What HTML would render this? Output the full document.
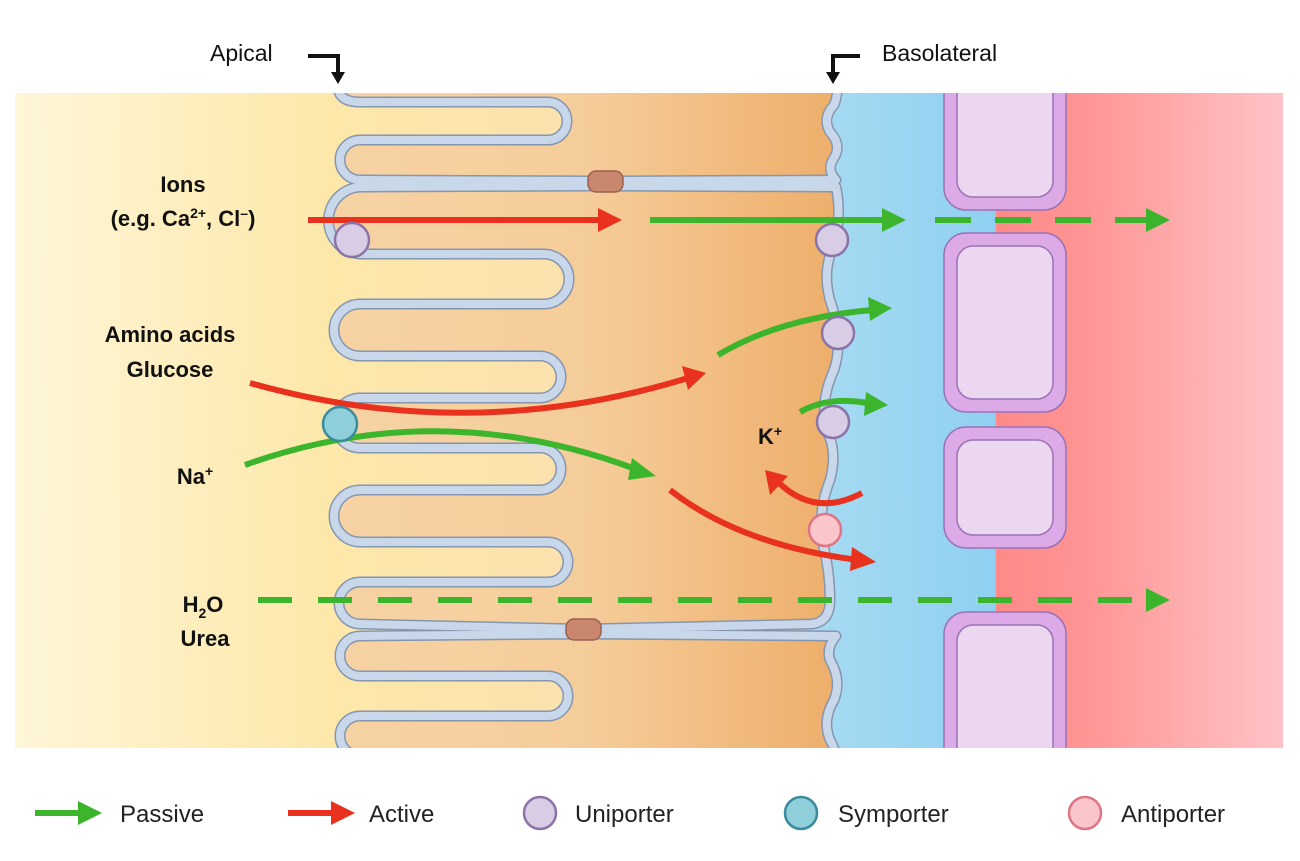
<!DOCTYPE html>
<html><head><meta charset="utf-8"><style>
html,body{margin:0;padding:0;background:#fff;}
svg{display:block;font-family:"Liberation Sans",sans-serif;}
</style></head><body>
<svg width="1300" height="861" viewBox="0 0 1300 861" xmlns="http://www.w3.org/2000/svg">
<defs>
<clipPath id="c"><rect x="15" y="93" width="1268" height="655"/></clipPath>
<linearGradient id="gy" gradientUnits="userSpaceOnUse" x1="15" y1="0" x2="840" y2="0">
<stop offset="0" stop-color="#fef6d8"/><stop offset="0.38" stop-color="#fde8aa"/><stop offset="0.68" stop-color="#fbe1ae"/><stop offset="1" stop-color="#f3c48a"/></linearGradient>
<linearGradient id="go" gradientUnits="userSpaceOnUse" x1="335" y1="0" x2="838" y2="0">
<stop offset="0" stop-color="#f6d2a4"/><stop offset="0.5" stop-color="#f5cd9a"/><stop offset="1" stop-color="#eeae6a"/></linearGradient>
<linearGradient id="gb" gradientUnits="userSpaceOnUse" x1="800" y1="0" x2="996" y2="0">
<stop offset="0" stop-color="#a9dbf2"/><stop offset="1" stop-color="#8fd0f0"/></linearGradient>
<linearGradient id="gr" gradientUnits="userSpaceOnUse" x1="996" y1="0" x2="1283" y2="0">
<stop offset="0" stop-color="#ff8a88"/><stop offset="0.3" stop-color="#ff9494"/><stop offset="1" stop-color="#ffc3c7"/></linearGradient>
</defs>

<g clip-path="url(#c)">
<rect x="800" y="93" width="196" height="655" fill="url(#gb)"/>
<rect x="996" y="93" width="287" height="655" fill="url(#gr)"/>
<rect x="15" y="93" width="790" height="655" fill="url(#gy)"/>

<g id="cells">
<path id="p1" d="M836,60 L338,60 L338,86 Q338,102 360,102 L548,102 A19,19 0 0 1 548,140 L360,140 A20,20 0 0 0 360,180 L600,181 L836,180 Q826,170 834,158 Q842,145 830,132 Q822,118 834,105 Q840,92 836,60 Z"/>
<path id="p2" d="M836,187 L600,186 L362,187 A33,33 0 0 0 362,254 L544,254 A25,25 0 0 1 544,304 L360,304 A26,26 0 0 0 360,356 L540,356 A21,21 0 0 1 540,398 L360,398 A25,25 0 0 0 360,448 L540,448 A21,21 0 0 1 540,490 L360,490 A26,26 0 0 0 360,542 L548,542 A20,20 0 0 1 548,582 L360,582 A21,21 0 0 0 360,624 L583,629 L812,624 Q830,622 830,600 Q830,570 822,540 Q818,510 830,480 Q838,450 826,430 Q820,400 834,370 Q844,340 830,300 Q822,270 834,245 Q842,215 836,187 Z"/>
<path id="p3" d="M836,636 L583,634 L360,636 A20,20 0 0 0 360,676 L548,676 A20,20 0 0 1 548,716 L360,716 A20,20 0 0 0 360,756 L360,790 L836,790 Q842,760 830,740 Q822,720 834,700 Q842,680 830,660 Q826,648 836,636 Z"/>
</g>
<g fill="url(#go)" stroke="none"><use href="#p1"/><use href="#p2"/><use href="#p3"/></g>
<g fill="none" stroke="#8596b0" stroke-width="11" stroke-linejoin="round"><use href="#p1"/><use href="#p2"/><use href="#p3"/></g>
<g fill="none" stroke="#c8d7e9" stroke-width="8" stroke-linejoin="round"><use href="#p1"/><use href="#p2"/><use href="#p3"/></g>

<rect x="588" y="171" width="35" height="21" rx="8" fill="#c8876e" stroke="#9a6050" stroke-width="1.5"/>
<rect x="566" y="619" width="35" height="21" rx="8" fill="#c8876e" stroke="#9a6050" stroke-width="1.5"/>

<g stroke="#9a72b6" stroke-width="1.5">
<rect x="944" y="50" width="122" height="160" rx="22" fill="#dcaae6"/>
<rect x="957" y="50" width="96" height="147" rx="16" fill="#ecd7f0"/>
<rect x="944" y="233" width="122" height="179" rx="22" fill="#dcaae6"/>
<rect x="957" y="246" width="96" height="153" rx="16" fill="#ecd7f0"/>
<rect x="944" y="427" width="122" height="121" rx="22" fill="#dcaae6"/>
<rect x="957" y="440" width="96" height="95" rx="16" fill="#ecd7f0"/>
<rect x="944" y="612" width="122" height="180" rx="22" fill="#dcaae6"/>
<rect x="957" y="625" width="96" height="160" rx="16" fill="#ecd7f0"/>
</g>

<g fill="none" stroke-width="6">
<line x1="308" y1="220" x2="600" y2="220" stroke="#e8321e"/>
<line x1="650" y1="220" x2="885" y2="220" stroke="#3cb52c"/>
<line x1="935" y1="220" x2="1150" y2="220" stroke="#3cb52c" stroke-dasharray="36,24"/>
<path d="M250,383 Q470,445 688,378" stroke="#e8321e"/>
<path d="M718,355 Q780,318 872,310" stroke="#3cb52c"/>
<path d="M245,465 Q440,395 638,470" stroke="#3cb52c"/>
<path d="M670,490 Q740,545 858,560" stroke="#e8321e"/>
<path d="M800,412 Q830,395 872,404" stroke="#3cb52c"/>
<path d="M862,493 Q815,518 778,482" stroke="#e8321e"/>
<line x1="258" y1="600" x2="1150" y2="600" stroke="#3cb52c" stroke-dasharray="34,26"/>
</g>
<g>
<polygon points="598,208 622,220 598,232" fill="#e8321e"/>
<polygon points="882,208 906,220 882,232" fill="#3cb52c"/>
<polygon points="1146,208 1170,220 1146,232" fill="#3cb52c"/>
<polygon points="682,366 706,373 688,390" fill="#e8321e"/>
<polygon points="868,297 892,308 870,321" fill="#3cb52c"/>
<polygon points="632,458 656,476 628,480" fill="#3cb52c"/>
<polygon points="852,547 876,562 850,571" fill="#e8321e"/>
<polygon points="866,392 888,405 864,416" fill="#3cb52c"/>
<polygon points="765,470 770,495 788,476" fill="#e8321e"/>
<polygon points="1146,588 1170,600 1146,612" fill="#3cb52c"/>
</g>

<g stroke-width="2.5">
<circle cx="352" cy="240" r="17" fill="#d9cde6" stroke="#8a74a8"/>
<circle cx="832" cy="240" r="16" fill="#d9cde6" stroke="#8a74a8"/>
<circle cx="838" cy="333" r="16" fill="#d9cde6" stroke="#8a74a8"/>
<circle cx="833" cy="422" r="16" fill="#d9cde6" stroke="#8a74a8"/>
<circle cx="340" cy="424" r="17" fill="#8ecfd9" stroke="#3a8aa0"/>
<circle cx="825" cy="530" r="16" fill="#fbc5cc" stroke="#e07585"/>
</g>
</g>

<g font-weight="bold" font-size="22" fill="#111" text-anchor="middle">
<text x="183" y="192">Ions</text>
<text x="183" y="226">(e.g. Ca<tspan font-size="14" dy="-8">2+</tspan><tspan dy="8">, Cl</tspan><tspan font-size="14" dy="-8">–</tspan><tspan dy="8">)</tspan></text>
<text x="170" y="342">Amino acids</text>
<text x="170" y="377">Glucose</text>
<text x="195" y="484">Na<tspan font-size="14" dy="-8">+</tspan></text>
<text x="203" y="612">H<tspan font-size="14" dy="6">2</tspan><tspan dy="-6">O</tspan></text>
<text x="205" y="646">Urea</text>
<text x="770" y="444">K<tspan font-size="14" dy="-8">+</tspan></text>
</g>

<g font-size="23" fill="#111">
<text x="210" y="61">Apical</text>
<text x="882" y="61">Basolateral</text>
</g>
<g fill="none" stroke="#111" stroke-width="4">
<path d="M308,56 L338,56 L338,74"/>
<path d="M860,56 L833,56 L833,74"/>
</g>
<polygon points="331,72 345,72 338,84" fill="#111"/>
<polygon points="826,72 840,72 833,84" fill="#111"/>

<line x1="35" y1="813" x2="80" y2="813" stroke="#3cb52c" stroke-width="6"/>
<polygon points="78,801 102,813 78,825" fill="#3cb52c"/>
<line x1="288" y1="813" x2="333" y2="813" stroke="#e8321e" stroke-width="6"/>
<polygon points="331,801 355,813 331,825" fill="#e8321e"/>
<circle cx="540" cy="813" r="16" fill="#d9cde6" stroke="#8a74a8" stroke-width="2.5"/>
<circle cx="801" cy="813" r="16" fill="#8ecfd9" stroke="#3a8aa0" stroke-width="2.5"/>
<circle cx="1085" cy="813" r="16" fill="#fbc5cc" stroke="#e07585" stroke-width="2.5"/>
<g font-size="24" fill="#222">
<text x="120" y="822">Passive</text>
<text x="369" y="822">Active</text>
<text x="575" y="822">Uniporter</text>
<text x="838" y="822">Symporter</text>
<text x="1121" y="822">Antiporter</text>
</g>
</svg>
</body></html>
